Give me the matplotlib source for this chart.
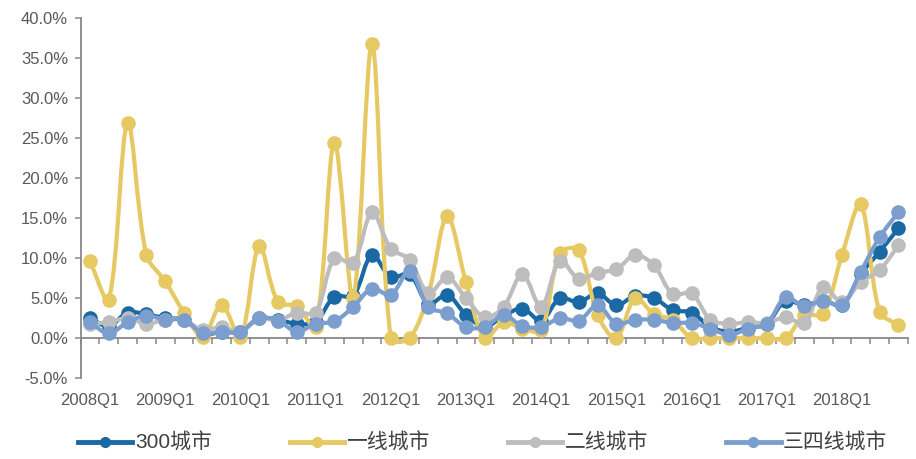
import numpy as np
import matplotlib.pyplot as plt
from matplotlib.path import Path
from matplotlib.patches import PathPatch
from matplotlib.lines import Line2D
from matplotlib.ticker import FuncFormatter

plt.rcParams['font.family'] = ['Liberation Sans', 'Noto Sans CJK SC', 'DejaVu Sans']

# quarterly growth, %, 2008Q1 .. 2018Q4
year_labels = ['2008Q1', '2009Q1', '2010Q1', '2011Q1', '2012Q1', '2013Q1',
               '2014Q1', '2015Q1', '2016Q1', '2017Q1', '2018Q1']
n_quarters = 44

city300 = [2.5, 1.5, 3.2, 3.0, 2.5, 2.3, 0.5, 0.8, 0.8, 2.5,
           2.3, 1.8, 2.0, 5.2, 5.3, 10.4, 7.6, 8.0, 4.3, 5.4,
           2.9, 1.4, 2.8, 3.7, 2.2, 5.0, 4.5, 5.6, 4.1, 5.3,
           5.0, 3.5, 3.2, 1.4, 0.8, 1.3, 1.8, 4.7, 4.1, 4.7,
           4.1, 8.0, 10.8, 13.7]
tier1 = [9.7, 4.8, 26.9, 10.4, 7.1, 3.2, 0.2, 4.2, 0.1, 11.5,
         4.5, 4.0, 1.4, 24.4, 5.0, 36.7, 0.0, 0.0, 5.5, 15.2,
         7.0, 0.0, 2.0, 1.2, 1.0, 10.6, 11.0, 2.9, 0.0, 5.0,
         3.0, 2.3, 0.0, 0.0, 0.0, 0.0, 0.0, 0.0, 2.9, 3.0,
         10.4, 16.7, 3.3, 1.7]
tier2 = [1.8, 2.0, 2.5, 1.8, 2.3, 2.3, 1.0, 1.4, 0.8, 2.5,
         2.2, 3.2, 3.2, 10.0, 9.4, 15.7, 11.2, 9.8, 5.6, 7.6,
         5.0, 2.6, 3.9, 8.0, 3.9, 9.7, 7.4, 8.2, 8.6, 10.4,
         9.1, 5.5, 5.6, 2.3, 1.8, 2.0, 1.9, 2.6, 1.9, 6.4,
         4.5, 7.0, 8.5, 11.6]
tier34 = [2.0, 0.6, 2.0, 2.8, 2.3, 2.3, 0.6, 0.8, 0.8, 2.5,
          2.2, 0.8, 1.8, 2.1, 3.9, 6.2, 5.4, 8.4, 3.9, 3.1,
          1.4, 1.4, 2.9, 1.5, 1.4, 2.5, 2.2, 4.1, 1.8, 2.3,
          2.3, 1.9, 1.9, 1.2, 0.4, 1.2, 1.8, 5.1, 4.0, 4.7,
          4.1, 8.3, 12.6, 15.7]

names = ['300城市', '一线城市', '二线城市', '三四线城市']
colors = ['#1A69A4', '#E6C963', '#BDBDBD', '#7B9ECF']


def smooth_path(ax, x, y):
    # excel-like smoothed line: bezier segments, handle length
    # weighted by the on-screen length of the neighbouring segments
    x = np.asarray(x, float)
    y = np.asarray(y, float)
    n = len(x)
    scr = ax.transData.transform(np.column_stack([x, y]))
    seg = np.hypot(*np.diff(scr, axis=0).T)
    out_c = []
    in_c = []
    for i in range(n):
        a = max(i - 1, 0)
        b = min(i + 1, n - 1)
        tx, ty = x[b] - x[a], y[b] - y[a]
        dp = seg[i - 1] if i > 0 else 0.
        dn = seg[i] if i < n - 1 else 0.
        tot = dp + dn if dp + dn > 0 else 1.
        if i == 0 or i == n - 1:
            fo = fi = 1 / 3.
        else:
            fo = (2 / 3.) * dn / tot
            fi = (2 / 3.) * dp / tot
        out_c.append((x[i] + tx * fo / 2, y[i] + ty * fo / 2))
        in_c.append((x[i] - tx * fi / 2, y[i] - ty * fi / 2))
    verts = [(x[0], y[0])]
    codes = [Path.MOVETO]
    for i in range(n - 1):
        verts += [out_c[i], in_c[i + 1], (x[i + 1], y[i + 1])]
        codes += [Path.CURVE4] * 3
    return Path(verts, codes)


fig = plt.figure(figsize=(9.16, 4.59), dpi=100)
ax = fig.add_axes([0.088, 0.176, 0.903, 0.785])
ax.set_xlim(-0.5, n_quarters - 0.5)
ax.set_ylim(-5, 40)

x = np.arange(n_quarters)
handles = []
for k, (vals, c) in enumerate(zip([city300, tier1, tier2, tier34], colors)):
    p = PathPatch(smooth_path(ax, x, vals), fill=False, edgecolor=c, lw=3.0,
                  capstyle='round', joinstyle='round', zorder=2 + k)
    ax.add_patch(p)
    ax.plot(x, vals, 'o', color=c, ms=9.5, mec=c, zorder=2 + k)
    handles.append(Line2D([], [], color=c, lw=3.5, marker='o', ms=7))

ax.set_yticks(np.arange(-5, 41, 5))
ax.yaxis.set_major_formatter(FuncFormatter(lambda v, p: '%.1f%%' % v))

ax.spines['top'].set_visible(False)
ax.spines['right'].set_visible(False)
ax.spines['bottom'].set_position(('data', 0))
for s in ['left', 'bottom']:
    ax.spines[s].set_color('#888888')
    ax.spines[s].set_linewidth(1.3)

ax.set_xticks(np.arange(-0.5, n_quarters, 1))
ax.set_xticklabels([])
ax.tick_params(axis='x', direction='out', length=4, width=1.1, color='#888888')
ax.tick_params(axis='y', direction='out', length=4, width=1.1, color='#888888',
               labelsize=12, labelcolor='#595959', pad=5)

for k, lab in enumerate(year_labels):
    ax.annotate(lab, (4 * k, -5), xytext=(0, -11), textcoords='offset points',
                ha='center', va='top', fontsize=12, color='#595959')

fig.legend(handles, names, loc='center', bbox_to_anchor=(0.527, 0.035), ncol=4,
           frameon=False, fontsize=15, handlelength=2.6, handletextpad=0.12,
           columnspacing=3.75, labelcolor='#404040')

plt.savefig('out.png', dpi=100)
